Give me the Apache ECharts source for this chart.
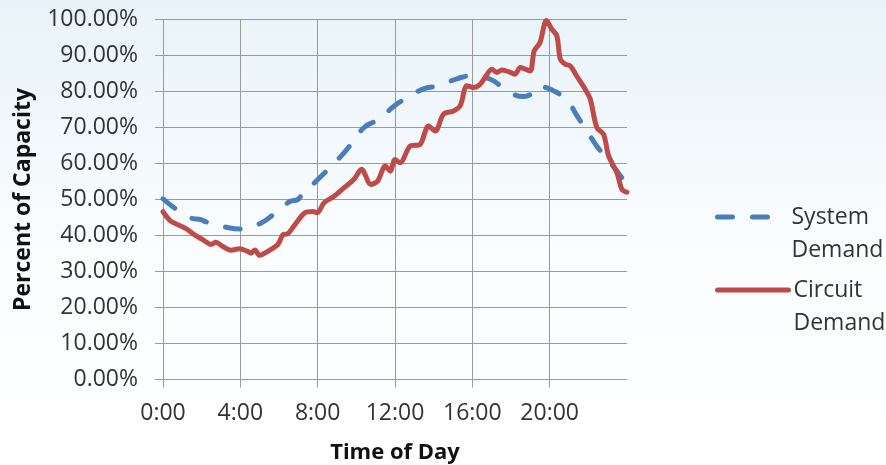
<!DOCTYPE html>
<html>
<head>
<meta charset="utf-8">
<script src="https://cdn.jsdelivr.net/npm/echarts@6/dist/echarts.min.js"></script>
<style>
html,body{margin:0;padding:0;}
#c{width:886px;height:465px;}
</style>
</head>
<body>
<div id="c"></div>
<script>
// Hours of day (x) and percent of capacity (y)
var systemHours = [0, 0.58, 1.44, 1.96, 2.22, 3.26, 4.04, 5.08, 5.77, 6.55, 6.98, 7.19, 7.98, 9.37, 10.4, 11.18, 11.96, 12.65, 13.51, 14.29, 15.24, 16.0, 16.94, 17.71, 18.66, 19.0, 19.35, 20.04, 20.9, 21.42, 21.94, 22.44, 23.14, 24.0];
var systemValues = [50.2, 47.7, 44.9, 44.4, 43.8, 42.3, 41.8, 43.5, 46.1, 49.4, 50.0, 51.4, 55.4, 63.0, 70.0, 72.3, 76.0, 78.3, 80.8, 81.6, 83.6, 84.3, 83.4, 80.6, 78.6, 79.2, 81.4, 80.6, 77.4, 73.2, 69.0, 64.8, 60.2, 54.2];

var circuitHours = [0, 0.4, 0.93, 1.28, 1.62, 2.13, 2.48, 2.74, 3.08, 3.52, 3.95, 4.38, 4.55, 4.76, 4.99, 5.42, 5.94, 6.2, 6.46, 6.89, 7.33, 7.76, 7.98, 8.33, 8.85, 9.37, 9.88, 10.27, 10.75, 11.1, 11.5, 11.75, 12.0, 12.26, 12.78, 13.3, 13.73, 14.08, 14.51, 15.03, 15.37, 15.72, 16.06, 16.4, 16.66, 17.0, 17.27, 17.53, 17.87, 18.2, 18.48, 18.74, 19.0, 19.2, 19.5, 19.83, 20.1, 20.37, 20.55, 20.8, 21.07, 21.4, 21.84, 22.1, 22.44, 22.79, 23.05, 23.48, 23.74, 24.0];
var circuitValues = [46.6, 44.0, 42.6, 41.6, 40.2, 38.6, 37.5, 38.1, 37.0, 35.9, 36.3, 35.6, 35.1, 36.0, 34.5, 35.6, 37.5, 40.2, 40.5, 43.5, 46.3, 46.7, 46.3, 49.1, 50.9, 53.3, 55.6, 58.4, 54.2, 55.1, 59.3, 57.9, 61.1, 60.2, 64.8, 65.3, 70.4, 69.0, 73.7, 74.6, 76.0, 81.6, 81.1, 82.0, 83.9, 86.2, 85.3, 86.0, 85.5, 84.8, 86.7, 86.2, 85.7, 91.3, 93.6, 99.7, 97.4, 95.5, 89.0, 87.6, 87.1, 84.3, 80.6, 77.9, 70.0, 68.1, 62.1, 57.4, 52.8, 52.0];

var seriesNames = ['System Demand', 'Circuit Demand'];
var xTitle = 'Time of Day';
var yTitle = 'Percent of Capacity';

function pairs(xs, ys) { return xs.map(function (x, i) { return [x, ys[i]]; }); }

var FONT = 'Open Sans';
var TEXT = '#333333';
var GRID = '#9a9a9a';

// leading blank line keeps the first word level with the legend line
function legendText(n) { return ' \n' + n.replace(' ', '\n'); }

var chart = echarts.init(document.getElementById('c'));
chart.setOption({
  animation: false,
  backgroundColor: {
    type: 'linear', x: 0, y: 0, x2: 0, y2: 1,
    colorStops: [{offset: 0, color: '#e8f3f9'}, {offset: 0.55, color: '#fbfdfe'}, {offset: 1, color: '#ffffff'}]
  },
  grid: {left: 163, right: 259, top: 19.5, bottom: 85.5, containLabel: false, outerBoundsMode: 'none'},
  legend: [{
    data: [seriesNames[0]],
    orient: 'vertical', left: 715, top: 167.5, padding: 0,
    itemWidth: 57, itemHeight: 10,
    itemStyle: {opacity: 0},
    lineStyle: {width: 5, cap: 'round'},
    formatter: legendText,
    textStyle: {fontFamily: FONT, fontSize: 23, lineHeight: 33, color: TEXT, padding: [0, 0, 0, 12]}
  }, {
    data: [seriesNames[1]],
    orient: 'vertical', left: 715, top: 240.5, padding: 0,
    itemWidth: 71, itemHeight: 10,
    itemStyle: {opacity: 0},
    lineStyle: {width: 5, cap: 'round'},
    formatter: legendText,
    textStyle: {fontFamily: FONT, fontSize: 23, lineHeight: 33, color: TEXT}
  }],
  xAxis: {
    type: 'value', min: 0, max: 24, interval: 4,
    name: xTitle, nameLocation: 'middle', nameGap: 62,
    nameTextStyle: {fontFamily: FONT, fontSize: 22, fontWeight: 'bold', color: '#111'},
    axisLine: {show: true, lineStyle: {color: GRID, width: 1}},
    axisTick: {show: true, length: 8, lineStyle: {color: GRID}},
    axisLabel: {
      margin: 22, fontFamily: FONT, fontSize: 23, color: TEXT, showMaxLabel: false,
      formatter: function (v) { return v >= 24 ? '' : v + ':00'; }
    },
    splitLine: {show: true, showMaxLine: false, lineStyle: {color: GRID, width: 1}}
  },
  yAxis: {
    type: 'value', min: 0, max: 100, interval: 10,
    name: yTitle, nameLocation: 'middle', nameGap: 128, nameRotate: 90,
    nameTextStyle: {fontFamily: FONT, fontSize: 23, fontWeight: 'bold', color: '#111'},
    axisLine: {show: true, lineStyle: {color: GRID, width: 1}},
    axisTick: {show: true, length: 8, lineStyle: {color: GRID}},
    axisLabel: {
      margin: 25, fontFamily: FONT, fontSize: 23, color: TEXT,
      formatter: function (v) { return v.toFixed(2) + '%'; }
    },
    splitLine: {show: true, lineStyle: {color: GRID, width: 1}}
  },
  series: [{
    name: seriesNames[0], type: 'line', smooth: true, symbol: 'none',
    data: pairs(systemHours, systemValues),
    itemStyle: {color: '#4a7ebb'},
    lineStyle: {color: '#4a7ebb', width: 5, type: [15, 20], cap: 'round'}
  }, {
    name: seriesNames[1], type: 'line', smooth: 0.3, symbol: 'none',
    data: pairs(circuitHours, circuitValues),
    itemStyle: {color: '#be4b48'},
    lineStyle: {color: '#be4b48', width: 5, cap: 'round', join: 'round'}
  }]
});
</script>
</body>
</html>
